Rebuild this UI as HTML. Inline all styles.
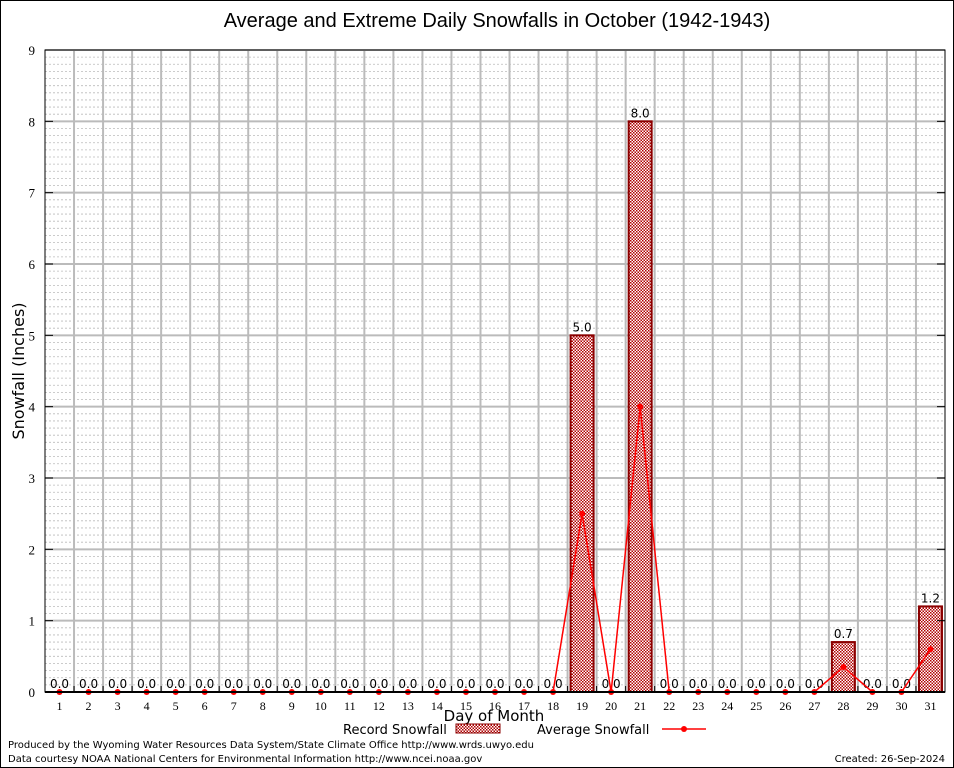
<!DOCTYPE html>
<html><head><meta charset="utf-8"><style>
body{margin:0;background:#fff;}
svg{display:block;font-family:"DejaVu Sans","Liberation Sans",sans-serif;}
</style></head><body>
<svg id="c" width="954" height="768" xmlns="http://www.w3.org/2000/svg">
<defs>
<pattern id="chk" width="3" height="3" patternUnits="userSpaceOnUse">
<rect width="3" height="3" fill="#fff"/>
<rect width="1.5" height="1.5" fill="#b00000"/>
<rect x="1.5" y="1.5" width="1.5" height="1.5" fill="#b00000"/>
</pattern>
</defs>
<rect x="0.5" y="0.5" width="953" height="767" fill="#fff" stroke="#000"/>
<text x="497" y="27" font-size="20" text-anchor="middle" font-family="Liberation Sans, sans-serif">Average and Extreme Daily Snowfalls in October (1942-1943)</text>
<g id="grid"></g>
<g id="bars"></g>
<g id="line"></g>
<g id="axes"></g>
<text x="24" y="371" font-size="16" text-anchor="middle" transform="rotate(-90 24 371)">Snowfall (Inches)</text>
<text x="494" y="721" font-size="15" text-anchor="middle">Day of Month</text>
<g>
<text x="343" y="734" font-size="13">Record Snowfall</text>
<rect x="456" y="724" width="44" height="9" fill="url(#chk)" stroke="#8b0000"/>
<text x="537" y="734" font-size="13">Average Snowfall</text>
<line x1="662" y1="729" x2="706" y2="729" stroke="#f00" stroke-width="1.5"/>
<circle cx="684" cy="729" r="3" fill="#f00"/>
</g>
<text x="8" y="748" font-size="10">Produced by the Wyoming Water Resources Data System/State Climate Office http://www.wrds.uwyo.edu</text>
<text x="8" y="762" font-size="10">Data courtesy NOAA National Centers for Environmental Information http://www.ncei.noaa.gov</text>
<text x="945" y="762" font-size="10" text-anchor="end">Created:  26-Sep-2024</text>
</svg>
<script>
const days = Array.from({length:31},(_,i)=>i+1);
const recordSnow = [0,0,0,0,0,0,0,0,0,0,0,0,0,0,0,0,0,0,5.0,0,8.0,0,0,0,0,0,0,0.7,0,0,1.2];
const avgSnow = [0,0,0,0,0,0,0,0,0,0,0,0,0,0,0,0,0,0,2.5,0,4.0,0,0,0,0,0,0,0.35,0,0,0.6];
const yTicks = [0,1,2,3,4,5,6,7,8,9];
const NS="http://www.w3.org/2000/svg";
const L=45,R=945,T=50,B=692,YMAX=9;
const slot=(R-L)/days.length;
const x=d=>L+slot*(d-0.5);
const y=v=>B-(v/YMAX)*(B-T);
function mk(t,a,p){const e=document.createElementNS(NS,t);for(const k in a)e.setAttribute(k,a[k]);p.appendChild(e);return e;}
const grid=document.getElementById('grid'),bars=document.getElementById('bars'),line=document.getElementById('line'),axes=document.getElementById('axes');
for(let v=0.1;v<YMAX;v+=0.1){if(Math.abs(v-Math.round(v))<0.01)continue;
 const g=mk('line',{x1:L,x2:R,y1:y(v),y2:y(v),stroke:'#bbb','stroke-dasharray':'2,2','stroke-width':0.8},grid);
 
 }
yTicks.forEach(v=>{const g=mk('line',{x1:L,x2:R,y1:y(v),y2:y(v),stroke:'#bbb','stroke-width':2},grid);
 
 
 const t=mk('text',{x:L-10,y:y(v)+5,'font-size':13,'text-anchor':'end','font-family':'Liberation Serif, serif'},axes);t.textContent=v;
 
 
 const tk=mk('line',{x1:L,x2:L+8,y1:y(v),y2:y(v),stroke:'#000'},axes);
 
 
 const tk2=mk('line',{x1:R-8,x2:R,y1:y(v),y2:y(v),stroke:'#000'},axes);
 
 });
days.forEach((d,i)=>{
 if(i>0){const g=mk('line',{x1:L+slot*i,x2:L+slot*i,y1:T,y2:B,stroke:'#bbb','stroke-width':2},grid);
 
 
 const tk=mk('line',{x1:L+slot*i,x2:L+slot*i,y1:B,y2:B-6,stroke:'#000'},axes);
 
 }
 const t=mk('text',{x:x(d),y:B+18,'font-size':12,'text-anchor':'middle','font-family':'Liberation Serif, serif'},axes);t.textContent=d;
 
 
 const v=recordSnow[i];
 if(v>0){const b=mk('rect',{x:x(d)-11.5,y:y(v),width:23,height:B-y(v),fill:'url(#chk)',stroke:'#8b0000','stroke-width':2},bars);
 
 }
 const lb=mk('text',{x:x(d),y:y(v)-4,'font-size':12,'text-anchor':'middle'},bars);lb.textContent=v.toFixed(1);
 
 
});
const pl=mk('polyline',{points:days.map((d,i)=>x(d)+','+y(avgSnow[i])).join(' '),fill:'none',stroke:'#f00','stroke-width':1.5},line);


days.forEach((d,i)=>{const c=mk('circle',{cx:x(d),cy:y(avgSnow[i]),r:3,fill:'#f00'},line);
 
 });
const fr=mk('rect',{x:L,y:T,width:R-L,height:B-T,fill:'none',stroke:'#000','stroke-width':1},axes);


const bl=mk('line',{x1:L,x2:R,y1:B,y2:B,stroke:'#000','stroke-width':2},axes);


</script>
</body></html>
